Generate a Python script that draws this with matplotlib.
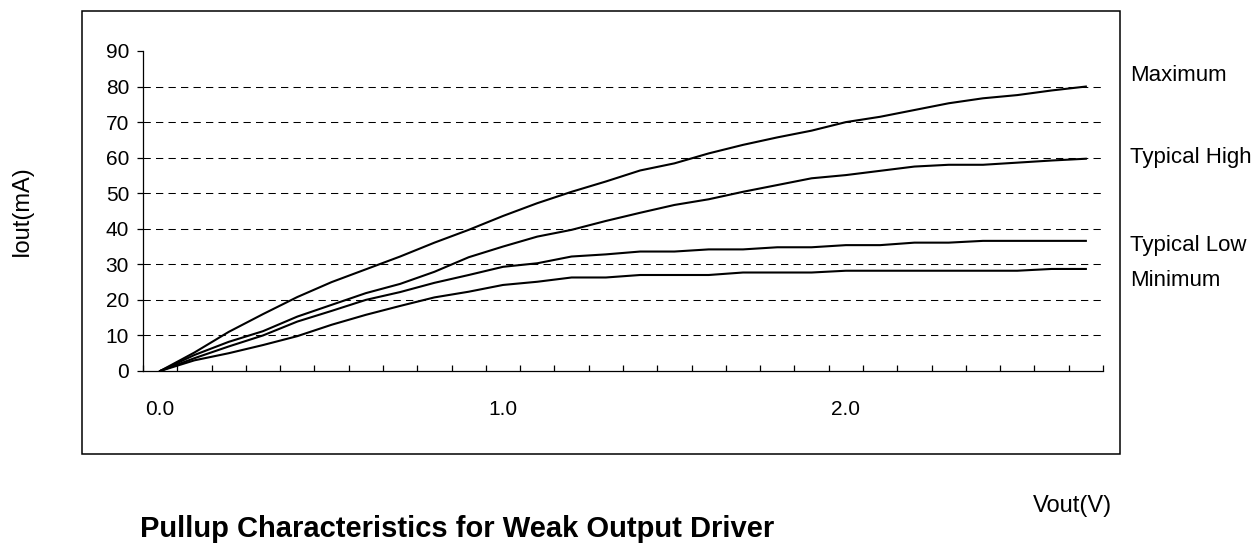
import matplotlib
matplotlib.use("Agg")
import matplotlib.pyplot as plt
from matplotlib.patches import Rectangle

plt.rcParams['font.family'] = ['Liberation Sans', 'DejaVu Sans']

# Vout steps, 0.0 .. 2.7 V
vout = [round(0.1 * i, 1) for i in range(28)]
vout_labels = {0: "0.0", 10: "1.0", 20: "2.0"}

i_max = [0, 5.2, 11, 16, 20.8, 25, 28.6, 32.2, 36.1, 39.7, 43.6, 47.2, 50.4, 53.3,
         56.4, 58.4, 61.2, 63.6, 65.7, 67.6, 70, 71.5, 73.4, 75.3, 76.7, 77.6, 78.9, 80]
i_typ_high = [0, 4.5, 8.2, 11.2, 15.3, 18.6, 21.9, 24.5, 27.9, 32.0, 35.0, 37.8, 39.7, 42.2,
              44.5, 46.7, 48.3, 50.4, 52.3, 54.2, 55.1, 56.3, 57.5, 58.0, 58.0, 58.6, 59.2, 59.7]
i_typ_low = [0, 3.6, 6.9, 10.0, 13.9, 16.9, 20.0, 22.2, 24.8, 27.0, 29.3, 30.3, 32.2, 32.8,
             33.6, 33.6, 34.2, 34.2, 34.8, 34.8, 35.4, 35.4, 36.1, 36.1, 36.6, 36.6, 36.6, 36.6]
i_min = [0, 3.0, 5.0, 7.3, 9.8, 13.0, 15.8, 18.3, 20.7, 22.3, 24.2, 25.1, 26.3, 26.3,
         27.0, 27.0, 27.0, 27.7, 27.7, 27.7, 28.2, 28.2, 28.2, 28.2, 28.2, 28.2, 28.7, 28.7]

series = [("Maximum", i_max, 76), ("Typical High", i_typ_high, 157),
          ("Typical Low", i_typ_low, 245), ("Minimum", i_min, 281)]
yticks = list(range(0, 100, 10))

W, H = 1258, 548
fig = plt.figure(figsize=(W / 100, H / 100), dpi=100)

# outer frame
fig.patches.append(Rectangle((82 / W, 1 - 454 / H), 1038 / W, 443 / H,
                             transform=fig.transFigure, fill=False,
                             edgecolor='black', linewidth=1.1))

ax = fig.add_axes([143 / W, 1 - 371 / H, 960 / W, 320 / H])
ax.set_facecolor('none')

x = list(range(len(vout)))
for name, vals, _ in series:
    ax.plot(x, vals, color='black', linewidth=1.5)

ax.hlines(yticks[1:-1], -0.5, len(vout) - 0.5, colors='black',
          linestyles=(0, (7, 5)), linewidth=0.75)

ax.set_xlim(-0.5, len(vout) - 0.5)
ax.set_ylim(0, 90)
for s in ['top', 'right']:
    ax.spines[s].set_visible(False)
ax.spines['left'].set_linewidth(0.9)
ax.spines['bottom'].set_linewidth(0.9)

ax.set_yticks(yticks)
ax.tick_params(axis='y', direction='out', length=4, width=0.9, pad=6, labelsize=15)

ax.set_xticks(list(vout_labels.keys()))
ax.set_xticklabels(list(vout_labels.values()))
ax.tick_params(axis='x', which='major', length=0, pad=21, labelsize=15)
ax.set_xticks([k + 0.5 for k in range(-1, len(vout))], minor=True)
ax.tick_params(axis='x', which='minor', direction='in', length=4.5, width=0.9)

for name, vals, ypix in series:
    fig.text(1130 / W, 1 - ypix / H, name, fontsize=16, va='center', ha='left')

fig.text(22 / W, 1 - 211 / H, "Iout(mA)", fontsize=17, rotation=90,
         va='center', ha='center')
fig.text(1112 / W, 1 - 506 / H, "Vout(V)", fontsize=17, va='center', ha='right')
fig.text(457 / W, 1 - 529 / H, "Pullup Characteristics for Weak Output Driver",
         fontsize=21, fontweight='bold', va='center', ha='center')

fig.savefig("out.png", dpi=100)
